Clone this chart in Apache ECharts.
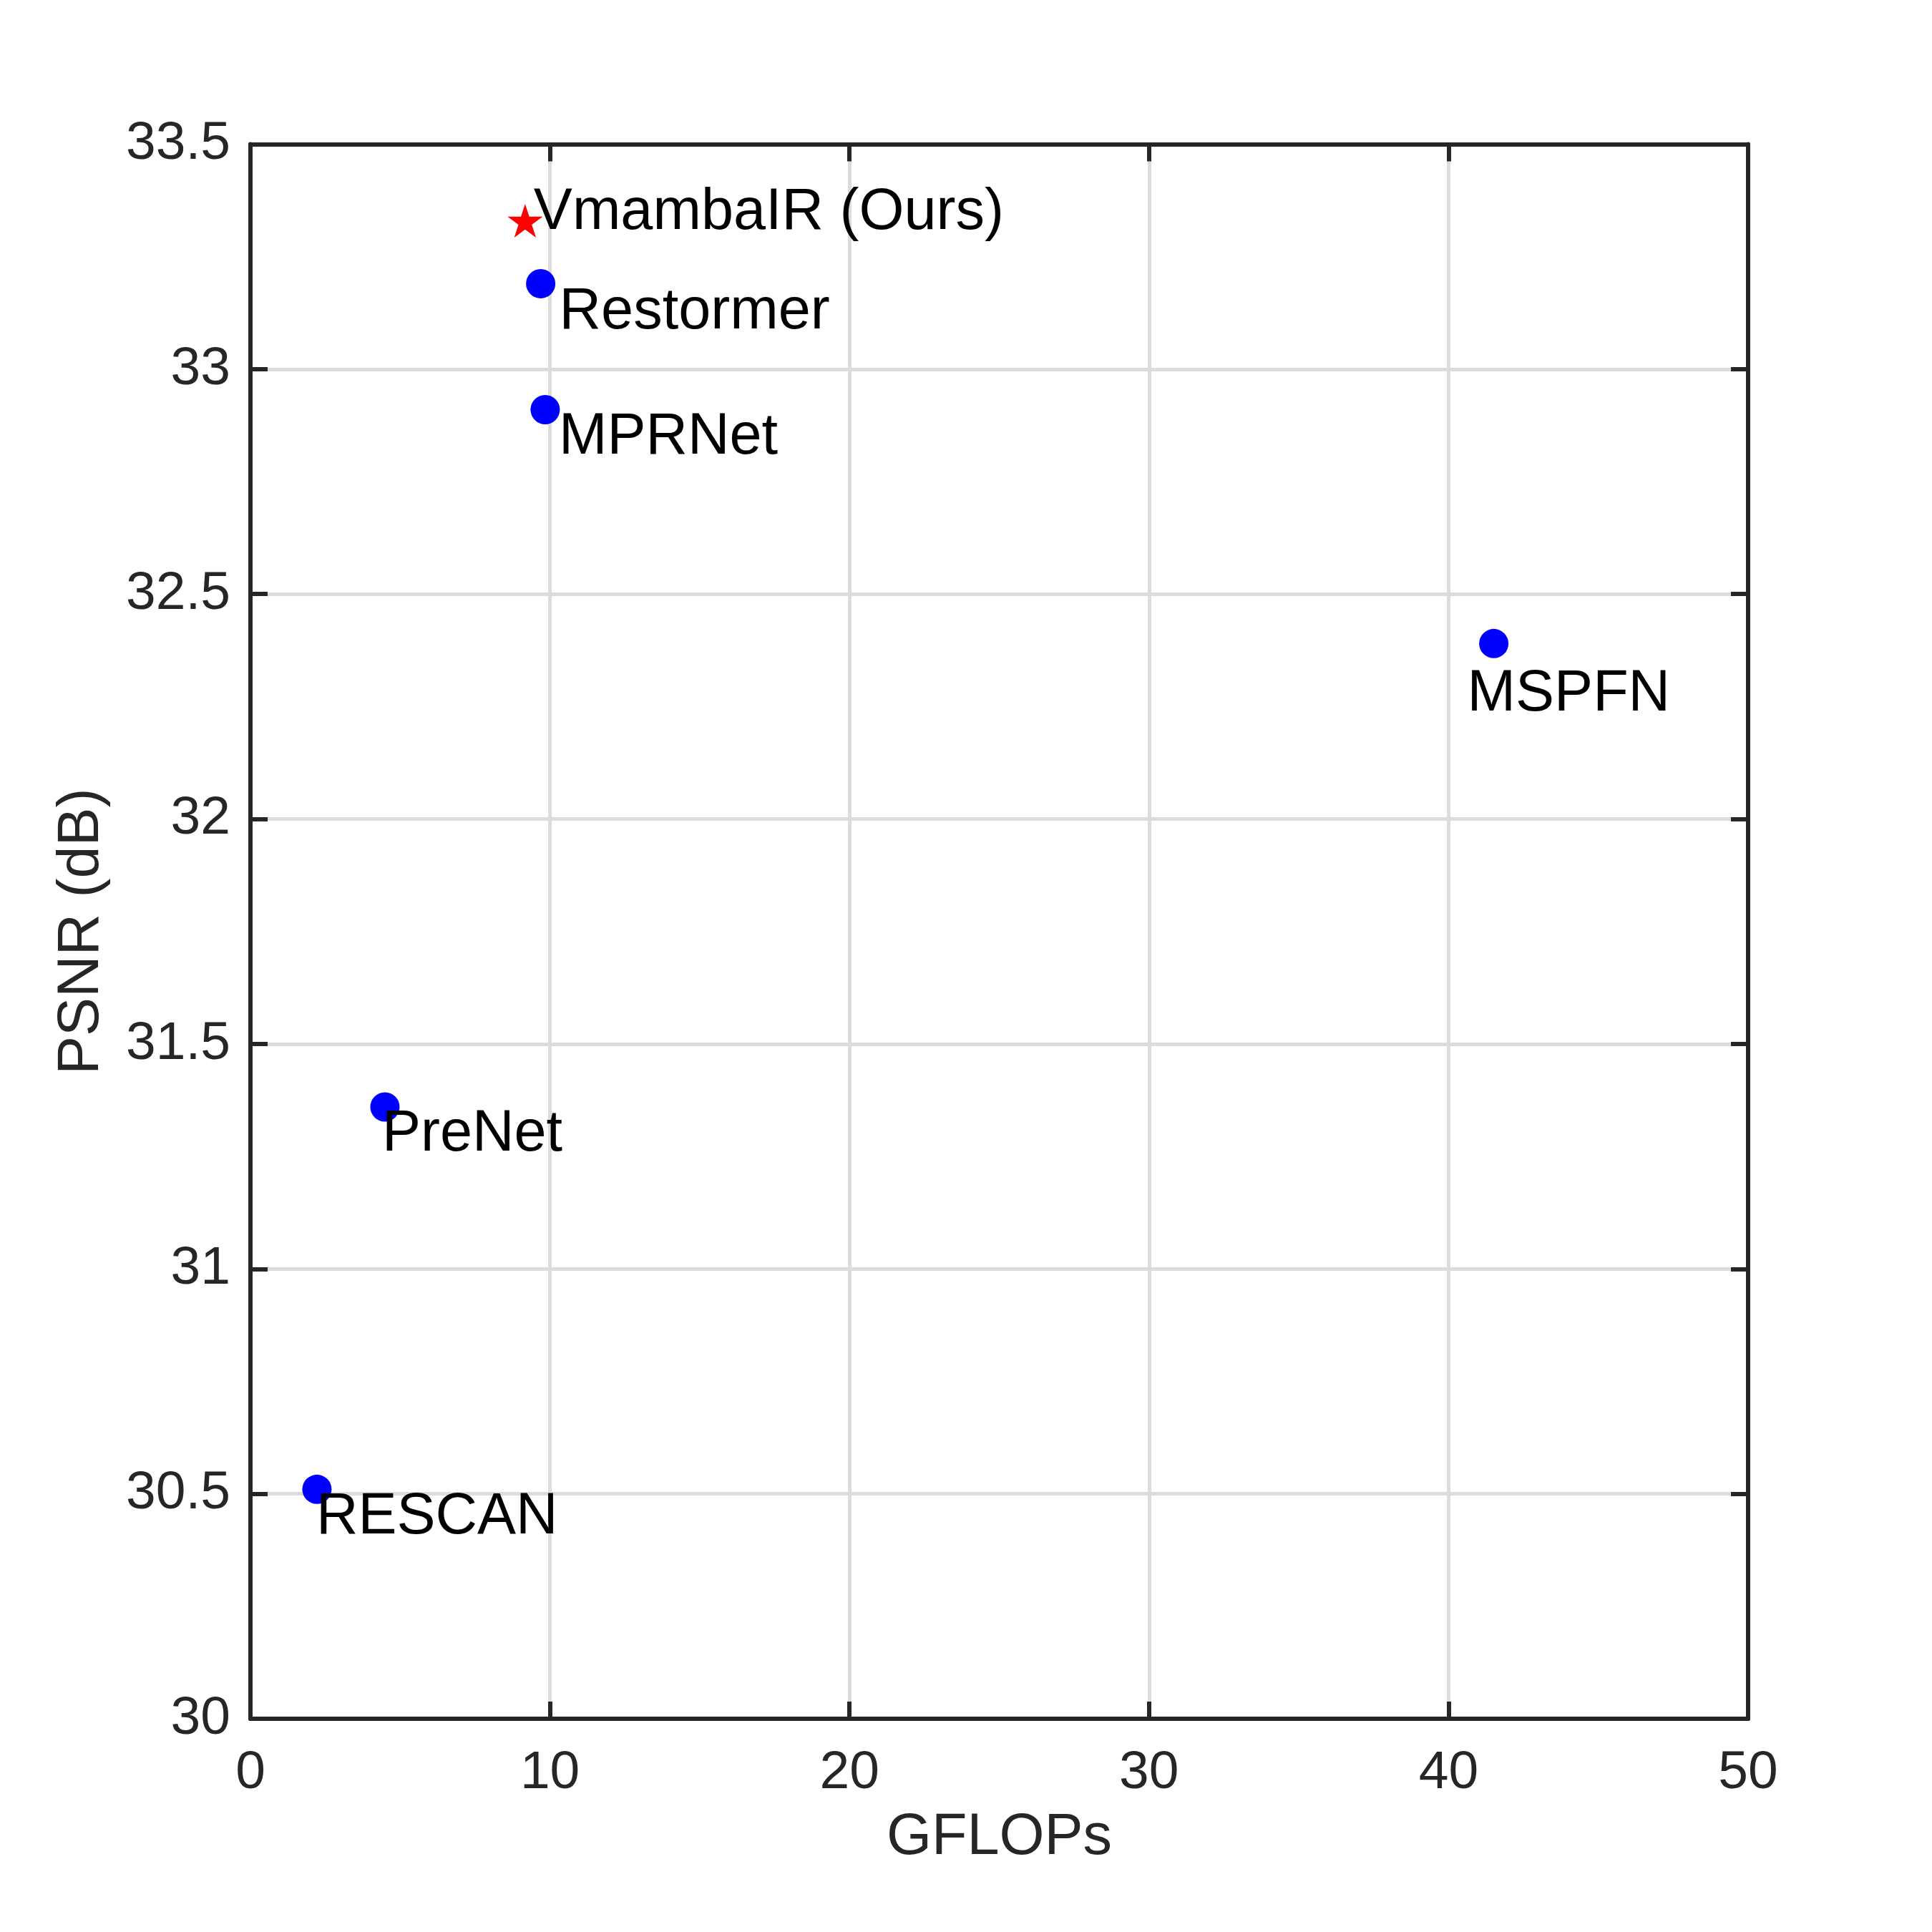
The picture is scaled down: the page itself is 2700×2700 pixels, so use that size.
<!DOCTYPE html>
<html>
<head>
<meta charset="utf-8">
<script src="https://cdn.jsdelivr.net/npm/echarts@6/dist/echarts.min.js"></script>
<style>
html,body{margin:0;padding:0;background:#fff;}
#chart{width:2700px;height:2700px;}
</style>
</head>
<body>
<div id="chart"></div>
<script>
// ---- data ----
const methods = ['VmambaIR (Ours)', 'Restormer', 'MPRNet', 'MSPFN', 'PreNet', 'RESCAN'];
const gflops  = [9.17, 9.69, 9.84, 41.51, 4.49, 2.22];
const psnr    = [33.33, 33.19, 32.91, 32.39, 31.36, 30.51];
const isOurs  = [true, false, false, false, false, false];

// ---- layout (label placement relative to each marker, px) ----
const labelOffsets = [[12, -11], [26, 40], [19, 39], [-37, 71], [-4, 39], [-1, 39]];

const FONT = "'Liberation Sans', Arial, Helvetica, sans-serif";
const AXIS_COLOR = '#262626';
const STAR = 'path://M0,-1L0.2245,-0.309L0.951,-0.309L0.363,0.118L0.588,0.809L0,0.382L-0.588,0.809L-0.363,0.118L-0.951,-0.309L-0.2245,-0.309Z';

function pts(ours) {
  const out = [];
  methods.forEach((m, i) => {
    if (isOurs[i] !== ours) return;
    out.push({
      name: m,
      value: [gflops[i], psnr[i]],
      label: { offset: labelOffsets[i] }
    });
  });
  return out;
}

const labelStyle = {
  show: true,
  position: 'inside',
  align: 'left',
  verticalAlign: 'middle',
  formatter: '{b}',
  color: '#000000',
  opacity: 1,
  fontFamily: FONT,
  fontSize: 81,
  lineHeight: 81
};

const axisCommon = {
  type: 'value',
  axisLine: { show: true, onZero: false, lineStyle: { color: AXIS_COLOR, width: 6 } },
  axisTick: { show: true, inside: true, length: 24, lineStyle: { color: AXIS_COLOR, width: 6 } }
};

const chart = echarts.init(document.getElementById('chart'), null, { renderer: 'canvas' });
chart.setOption({
  backgroundColor: '#fff',
  animation: false,
  grid: { left: 350, top: 201.5, right: 257, bottom: 298, containLabel: false },
  xAxis: [
    Object.assign({}, axisCommon, {
      position: 'bottom', min: 0, max: 50, interval: 10,
      name: 'GFLOPs', nameLocation: 'middle', nameGap: 126,
      nameTextStyle: { fontFamily: FONT, fontSize: 81, lineHeight: 81, color: AXIS_COLOR },
      axisLabel: { show: true, margin: 39, fontFamily: FONT, fontSize: 75, lineHeight: 75, color: AXIS_COLOR },
      splitLine: { show: true, lineStyle: { color: '#dcdcdc', width: 5 } }
    }),
    Object.assign({}, axisCommon, {
      position: 'top', min: 0, max: 50, interval: 10,
      axisLabel: { show: false }, splitLine: { show: false }
    })
  ],
  yAxis: [
    Object.assign({}, axisCommon, {
      position: 'left', min: 30, max: 33.5, interval: 0.5,
      name: 'PSNR (dB)', nameLocation: 'middle', nameGap: 195,
      nameTextStyle: { fontFamily: FONT, fontSize: 81, lineHeight: 81, color: AXIS_COLOR },
      axisLabel: { show: true, margin: 28, fontFamily: FONT, fontSize: 75, lineHeight: 75, color: AXIS_COLOR },
      splitLine: { show: true, lineStyle: { color: '#dcdcdc', width: 5 } }
    }),
    Object.assign({}, axisCommon, {
      position: 'right', min: 30, max: 33.5, interval: 0.5,
      axisLabel: { show: false }, splitLine: { show: false }
    })
  ],
  series: [
    {
      type: 'scatter', xAxisIndex: 0, yAxisIndex: 0,
      symbol: 'circle', symbolSize: 41,
      itemStyle: { color: '#0000ff', opacity: 1 },
      label: labelStyle,
      data: pts(false),
      z: 3
    },
    {
      type: 'scatter', xAxisIndex: 0, yAxisIndex: 0,
      symbol: STAR, symbolSize: [49, 47],
      itemStyle: { color: '#ff0000', opacity: 1 },
      label: labelStyle,
      data: pts(true),
      z: 3
    }
  ]
});
</script>
</body>
</html>
